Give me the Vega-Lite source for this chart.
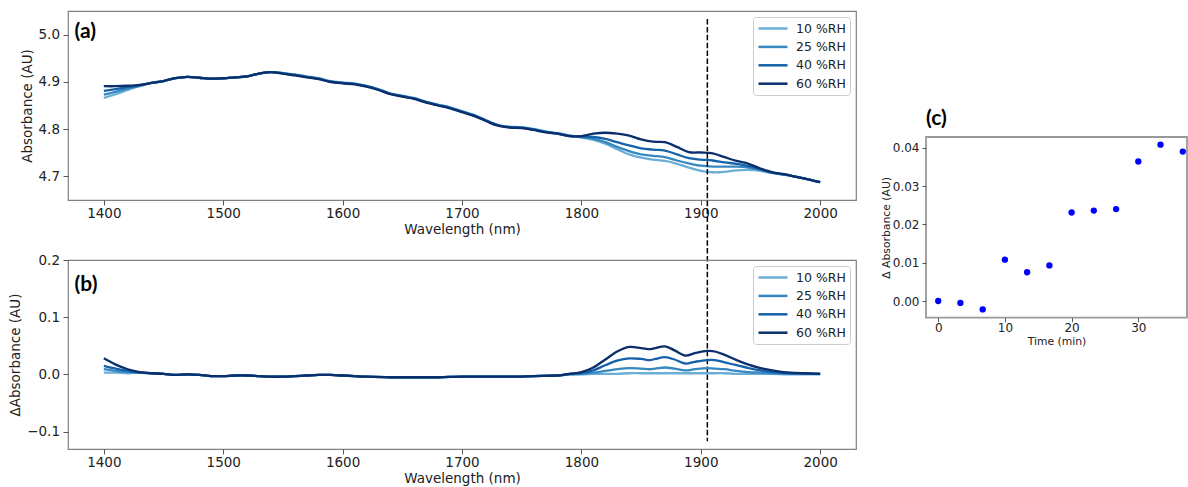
{
  "$schema": "https://vega.github.io/schema/vega-lite/v6.json",
  "background": "white",
  "padding": {"left": 8, "top": 10, "right": 0, "bottom": 0},
  "config": {
    "font": "DejaVu Sans",
    "view": {"stroke": "#808080", "strokeWidth": 1.2},
    "axis": {"grid": false, "domain": false, "tickColor": "#555555", "labelColor": "#222222", "titleColor": "#222222", "titleFontWeight": "normal", "labelFont": "DejaVu Sans", "titleFont": "DejaVu Sans", "labelFontSize": 13.5, "titleFontSize": 13.5, "tickSize": 5},
    "axisX": {"labelPadding": 1, "titlePadding": 3},
    "axisY": {"labelPadding": 3.5, "titlePadding": 4},
    "legend": {"title": null, "orient": "top-right", "offset": 6, "padding": 4, "strokeColor": "#cccccc", "fillColor": "white", "cornerRadius": 3, "labelFontSize": 12.5, "labelColor": "#222222", "labelFont": "DejaVu Sans", "symbolType": "M-1,0H3.83", "symbolSize": 144, "symbolStrokeWidth": 2.5, "labelOffset": 24, "rowPadding": 4.4}
  },
  "datasets": {
    "a": [
      {"wl": 1400, "10 %RH": 4.866, "25 %RH": 4.873, "40 %RH": 4.881, "60 %RH": 4.891},
      {"wl": 1410, "10 %RH": 4.874, "25 %RH": 4.879, "40 %RH": 4.885, "60 %RH": 4.891},
      {"wl": 1420, "10 %RH": 4.883, "25 %RH": 4.886, "40 %RH": 4.889, "60 %RH": 4.892},
      {"wl": 1430, "10 %RH": 4.891, "25 %RH": 4.892, "40 %RH": 4.893, "60 %RH": 4.894},
      {"wl": 1440, "10 %RH": 4.898, "25 %RH": 4.898, "40 %RH": 4.898, "60 %RH": 4.898},
      {"wl": 1450, "10 %RH": 4.902, "25 %RH": 4.902, "40 %RH": 4.902, "60 %RH": 4.902},
      {"wl": 1460, "10 %RH": 4.908, "25 %RH": 4.908, "40 %RH": 4.908, "60 %RH": 4.908},
      {"wl": 1470, "10 %RH": 4.911, "25 %RH": 4.911, "40 %RH": 4.911, "60 %RH": 4.911},
      {"wl": 1480, "10 %RH": 4.909, "25 %RH": 4.909, "40 %RH": 4.909, "60 %RH": 4.909},
      {"wl": 1490, "10 %RH": 4.907, "25 %RH": 4.907, "40 %RH": 4.907, "60 %RH": 4.907},
      {"wl": 1500, "10 %RH": 4.908, "25 %RH": 4.908, "40 %RH": 4.908, "60 %RH": 4.908},
      {"wl": 1510, "10 %RH": 4.910, "25 %RH": 4.910, "40 %RH": 4.910, "60 %RH": 4.910},
      {"wl": 1520, "10 %RH": 4.912, "25 %RH": 4.912, "40 %RH": 4.912, "60 %RH": 4.912},
      {"wl": 1530, "10 %RH": 4.918, "25 %RH": 4.918, "40 %RH": 4.918, "60 %RH": 4.918},
      {"wl": 1540, "10 %RH": 4.921, "25 %RH": 4.921, "40 %RH": 4.921, "60 %RH": 4.921},
      {"wl": 1550, "10 %RH": 4.919, "25 %RH": 4.919, "40 %RH": 4.918, "60 %RH": 4.918},
      {"wl": 1560, "10 %RH": 4.916, "25 %RH": 4.915, "40 %RH": 4.915, "60 %RH": 4.914},
      {"wl": 1570, "10 %RH": 4.912, "25 %RH": 4.911, "40 %RH": 4.911, "60 %RH": 4.910},
      {"wl": 1580, "10 %RH": 4.908, "25 %RH": 4.907, "40 %RH": 4.907, "60 %RH": 4.906},
      {"wl": 1590, "10 %RH": 4.902, "25 %RH": 4.901, "40 %RH": 4.901, "60 %RH": 4.900},
      {"wl": 1600, "10 %RH": 4.899, "25 %RH": 4.898, "40 %RH": 4.898, "60 %RH": 4.897},
      {"wl": 1610, "10 %RH": 4.897, "25 %RH": 4.896, "40 %RH": 4.896, "60 %RH": 4.895},
      {"wl": 1620, "10 %RH": 4.892, "25 %RH": 4.891, "40 %RH": 4.891, "60 %RH": 4.890},
      {"wl": 1630, "10 %RH": 4.885, "25 %RH": 4.884, "40 %RH": 4.884, "60 %RH": 4.883},
      {"wl": 1640, "10 %RH": 4.876, "25 %RH": 4.875, "40 %RH": 4.875, "60 %RH": 4.874},
      {"wl": 1650, "10 %RH": 4.871, "25 %RH": 4.870, "40 %RH": 4.870, "60 %RH": 4.869},
      {"wl": 1660, "10 %RH": 4.866, "25 %RH": 4.865, "40 %RH": 4.865, "60 %RH": 4.864},
      {"wl": 1670, "10 %RH": 4.858, "25 %RH": 4.857, "40 %RH": 4.857, "60 %RH": 4.856},
      {"wl": 1680, "10 %RH": 4.852, "25 %RH": 4.851, "40 %RH": 4.851, "60 %RH": 4.850},
      {"wl": 1690, "10 %RH": 4.846, "25 %RH": 4.845, "40 %RH": 4.845, "60 %RH": 4.844},
      {"wl": 1700, "10 %RH": 4.838, "25 %RH": 4.837, "40 %RH": 4.837, "60 %RH": 4.836},
      {"wl": 1710, "10 %RH": 4.830, "25 %RH": 4.829, "40 %RH": 4.829, "60 %RH": 4.828},
      {"wl": 1720, "10 %RH": 4.819, "25 %RH": 4.818, "40 %RH": 4.818, "60 %RH": 4.817},
      {"wl": 1730, "10 %RH": 4.809, "25 %RH": 4.808, "40 %RH": 4.808, "60 %RH": 4.807},
      {"wl": 1740, "10 %RH": 4.805, "25 %RH": 4.804, "40 %RH": 4.804, "60 %RH": 4.803},
      {"wl": 1750, "10 %RH": 4.804, "25 %RH": 4.803, "40 %RH": 4.803, "60 %RH": 4.802},
      {"wl": 1760, "10 %RH": 4.800, "25 %RH": 4.799, "40 %RH": 4.799, "60 %RH": 4.798},
      {"wl": 1770, "10 %RH": 4.795, "25 %RH": 4.794, "40 %RH": 4.794, "60 %RH": 4.793},
      {"wl": 1780, "10 %RH": 4.791, "25 %RH": 4.791, "40 %RH": 4.790, "60 %RH": 4.790},
      {"wl": 1790, "10 %RH": 4.786, "25 %RH": 4.786, "40 %RH": 4.785, "60 %RH": 4.785},
      {"wl": 1800, "10 %RH": 4.782, "25 %RH": 4.783, "40 %RH": 4.784, "60 %RH": 4.785},
      {"wl": 1810, "10 %RH": 4.777, "25 %RH": 4.779, "40 %RH": 4.783, "60 %RH": 4.790},
      {"wl": 1820, "10 %RH": 4.769, "25 %RH": 4.772, "40 %RH": 4.779, "60 %RH": 4.792},
      {"wl": 1830, "10 %RH": 4.757, "25 %RH": 4.762, "40 %RH": 4.772, "60 %RH": 4.790},
      {"wl": 1840, "10 %RH": 4.746, "25 %RH": 4.753, "40 %RH": 4.765, "60 %RH": 4.786},
      {"wl": 1850, "10 %RH": 4.739, "25 %RH": 4.746, "40 %RH": 4.759, "60 %RH": 4.778},
      {"wl": 1860, "10 %RH": 4.735, "25 %RH": 4.743, "40 %RH": 4.756, "60 %RH": 4.773},
      {"wl": 1870, "10 %RH": 4.732, "25 %RH": 4.740, "40 %RH": 4.754, "60 %RH": 4.772},
      {"wl": 1880, "10 %RH": 4.726, "25 %RH": 4.733, "40 %RH": 4.746, "60 %RH": 4.762},
      {"wl": 1890, "10 %RH": 4.718, "25 %RH": 4.727, "40 %RH": 4.738, "60 %RH": 4.751},
      {"wl": 1900, "10 %RH": 4.711, "25 %RH": 4.722, "40 %RH": 4.735, "60 %RH": 4.750},
      {"wl": 1910, "10 %RH": 4.708, "25 %RH": 4.720, "40 %RH": 4.733, "60 %RH": 4.748},
      {"wl": 1920, "10 %RH": 4.709, "25 %RH": 4.720, "40 %RH": 4.729, "60 %RH": 4.740},
      {"wl": 1930, "10 %RH": 4.712, "25 %RH": 4.720, "40 %RH": 4.726, "60 %RH": 4.732},
      {"wl": 1940, "10 %RH": 4.713, "25 %RH": 4.718, "40 %RH": 4.721, "60 %RH": 4.726},
      {"wl": 1950, "10 %RH": 4.711, "25 %RH": 4.713, "40 %RH": 4.714, "60 %RH": 4.716},
      {"wl": 1960, "10 %RH": 4.706, "25 %RH": 4.707, "40 %RH": 4.707, "60 %RH": 4.708},
      {"wl": 1970, "10 %RH": 4.703, "25 %RH": 4.703, "40 %RH": 4.703, "60 %RH": 4.704},
      {"wl": 1980, "10 %RH": 4.698, "25 %RH": 4.698, "40 %RH": 4.698, "60 %RH": 4.698},
      {"wl": 1990, "10 %RH": 4.693, "25 %RH": 4.693, "40 %RH": 4.693, "60 %RH": 4.693},
      {"wl": 2000, "10 %RH": 4.687, "25 %RH": 4.687, "40 %RH": 4.687, "60 %RH": 4.687}
    ],
    "b": [
      {"wl": 1400, "10 %RH": 0.003, "25 %RH": 0.009, "40 %RH": 0.015, "60 %RH": 0.028},
      {"wl": 1410, "10 %RH": 0.003, "25 %RH": 0.006, "40 %RH": 0.010, "60 %RH": 0.017},
      {"wl": 1420, "10 %RH": 0.002, "25 %RH": 0.004, "40 %RH": 0.006, "60 %RH": 0.009},
      {"wl": 1430, "10 %RH": 0.003, "25 %RH": 0.003, "40 %RH": 0.003, "60 %RH": 0.004},
      {"wl": 1440, "10 %RH": 0.002, "25 %RH": 0.002, "40 %RH": 0.002, "60 %RH": 0.002},
      {"wl": 1450, "10 %RH": 0.001, "25 %RH": 0.001, "40 %RH": 0.001, "60 %RH": 0.001},
      {"wl": 1460, "10 %RH": -0.001, "25 %RH": -0.001, "40 %RH": -0.001, "60 %RH": -0.001},
      {"wl": 1470, "10 %RH": 0.000, "25 %RH": 0.000, "40 %RH": 0.000, "60 %RH": 0.000},
      {"wl": 1480, "10 %RH": -0.001, "25 %RH": -0.001, "40 %RH": -0.001, "60 %RH": -0.001},
      {"wl": 1490, "10 %RH": -0.003, "25 %RH": -0.003, "40 %RH": -0.003, "60 %RH": -0.003},
      {"wl": 1500, "10 %RH": -0.003, "25 %RH": -0.003, "40 %RH": -0.003, "60 %RH": -0.003},
      {"wl": 1510, "10 %RH": -0.002, "25 %RH": -0.002, "40 %RH": -0.002, "60 %RH": -0.002},
      {"wl": 1520, "10 %RH": -0.002, "25 %RH": -0.002, "40 %RH": -0.002, "60 %RH": -0.002},
      {"wl": 1530, "10 %RH": -0.003, "25 %RH": -0.003, "40 %RH": -0.003, "60 %RH": -0.003},
      {"wl": 1540, "10 %RH": -0.004, "25 %RH": -0.004, "40 %RH": -0.004, "60 %RH": -0.004},
      {"wl": 1550, "10 %RH": -0.004, "25 %RH": -0.004, "40 %RH": -0.004, "60 %RH": -0.004},
      {"wl": 1560, "10 %RH": -0.003, "25 %RH": -0.003, "40 %RH": -0.003, "60 %RH": -0.003},
      {"wl": 1570, "10 %RH": -0.002, "25 %RH": -0.002, "40 %RH": -0.002, "60 %RH": -0.002},
      {"wl": 1580, "10 %RH": -0.001, "25 %RH": -0.001, "40 %RH": -0.001, "60 %RH": -0.001},
      {"wl": 1590, "10 %RH": -0.001, "25 %RH": -0.001, "40 %RH": -0.001, "60 %RH": -0.001},
      {"wl": 1600, "10 %RH": -0.002, "25 %RH": -0.002, "40 %RH": -0.002, "60 %RH": -0.002},
      {"wl": 1610, "10 %RH": -0.003, "25 %RH": -0.003, "40 %RH": -0.003, "60 %RH": -0.003},
      {"wl": 1620, "10 %RH": -0.004, "25 %RH": -0.004, "40 %RH": -0.004, "60 %RH": -0.004},
      {"wl": 1640, "10 %RH": -0.005, "25 %RH": -0.005, "40 %RH": -0.005, "60 %RH": -0.005},
      {"wl": 1660, "10 %RH": -0.005, "25 %RH": -0.005, "40 %RH": -0.005, "60 %RH": -0.005},
      {"wl": 1680, "10 %RH": -0.005, "25 %RH": -0.005, "40 %RH": -0.005, "60 %RH": -0.005},
      {"wl": 1700, "10 %RH": -0.004, "25 %RH": -0.004, "40 %RH": -0.004, "60 %RH": -0.004},
      {"wl": 1720, "10 %RH": -0.004, "25 %RH": -0.004, "40 %RH": -0.004, "60 %RH": -0.004},
      {"wl": 1740, "10 %RH": -0.004, "25 %RH": -0.004, "40 %RH": -0.004, "60 %RH": -0.004},
      {"wl": 1760, "10 %RH": -0.003, "25 %RH": -0.003, "40 %RH": -0.003, "60 %RH": -0.003},
      {"wl": 1780, "10 %RH": -0.002, "25 %RH": -0.002, "40 %RH": -0.002, "60 %RH": -0.002},
      {"wl": 1790, "10 %RH": 0.000, "25 %RH": 0.000, "40 %RH": 0.001, "60 %RH": 0.001},
      {"wl": 1800, "10 %RH": 0.000, "25 %RH": 0.001, "40 %RH": 0.002, "60 %RH": 0.004},
      {"wl": 1810, "10 %RH": 0.001, "25 %RH": 0.003, "40 %RH": 0.007, "60 %RH": 0.012},
      {"wl": 1820, "10 %RH": 0.001, "25 %RH": 0.006, "40 %RH": 0.016, "60 %RH": 0.026},
      {"wl": 1830, "10 %RH": 0.001, "25 %RH": 0.009, "40 %RH": 0.024, "60 %RH": 0.040},
      {"wl": 1840, "10 %RH": 0.002, "25 %RH": 0.011, "40 %RH": 0.028, "60 %RH": 0.048},
      {"wl": 1850, "10 %RH": 0.002, "25 %RH": 0.010, "40 %RH": 0.027, "60 %RH": 0.046},
      {"wl": 1857, "10 %RH": 0.002, "25 %RH": 0.009, "40 %RH": 0.025, "60 %RH": 0.044},
      {"wl": 1862, "10 %RH": 0.002, "25 %RH": 0.010, "40 %RH": 0.027, "60 %RH": 0.046},
      {"wl": 1870, "10 %RH": 0.002, "25 %RH": 0.012, "40 %RH": 0.030, "60 %RH": 0.049},
      {"wl": 1878, "10 %RH": 0.002, "25 %RH": 0.010, "40 %RH": 0.026, "60 %RH": 0.042},
      {"wl": 1887, "10 %RH": 0.002, "25 %RH": 0.007, "40 %RH": 0.019, "60 %RH": 0.033},
      {"wl": 1895, "10 %RH": 0.002, "25 %RH": 0.009, "40 %RH": 0.022, "60 %RH": 0.037},
      {"wl": 1905, "10 %RH": 0.002, "25 %RH": 0.011, "40 %RH": 0.025, "60 %RH": 0.041},
      {"wl": 1912, "10 %RH": 0.002, "25 %RH": 0.010, "40 %RH": 0.025, "60 %RH": 0.040},
      {"wl": 1920, "10 %RH": 0.002, "25 %RH": 0.009, "40 %RH": 0.021, "60 %RH": 0.034},
      {"wl": 1930, "10 %RH": 0.001, "25 %RH": 0.006, "40 %RH": 0.016, "60 %RH": 0.025},
      {"wl": 1940, "10 %RH": 0.001, "25 %RH": 0.004, "40 %RH": 0.011, "60 %RH": 0.017},
      {"wl": 1950, "10 %RH": 0.001, "25 %RH": 0.003, "40 %RH": 0.007, "60 %RH": 0.011},
      {"wl": 1960, "10 %RH": 0.001, "25 %RH": 0.002, "40 %RH": 0.004, "60 %RH": 0.007},
      {"wl": 1975, "10 %RH": 0.000, "25 %RH": 0.001, "40 %RH": 0.002, "60 %RH": 0.003},
      {"wl": 2000, "10 %RH": 0.000, "25 %RH": 0.001, "40 %RH": 0.001, "60 %RH": 0.001}
    ],
    "c": [
      {"t": 0.00, "dA": 0.0000},
      {"t": 3.33, "dA": -0.0005},
      {"t": 6.67, "dA": -0.0022},
      {"t": 10.00, "dA": 0.0108},
      {"t": 13.33, "dA": 0.0075},
      {"t": 16.67, "dA": 0.0093},
      {"t": 20.00, "dA": 0.0231},
      {"t": 23.33, "dA": 0.0236},
      {"t": 26.67, "dA": 0.0240},
      {"t": 30.00, "dA": 0.0364},
      {"t": 33.33, "dA": 0.0408},
      {"t": 36.67, "dA": 0.0390}
    ]
  },
  "hconcat": [
    {
      "vconcat": [
        {
          "width": 788,
          "height": 189,
          "layer": [
            {
              "data": {"name": "a"},
              "transform": [{"fold": ["10 %RH", "25 %RH", "40 %RH", "60 %RH"], "as": ["rh", "abs"]}],
              "mark": {"type": "line", "strokeWidth": 2.3, "interpolate": "cardinal"},
              "encoding": {
                "x": {"field": "wl", "type": "quantitative", "scale": {"domain": [1370, 2030], "nice": false, "zero": false}, "axis": {"values": [1400, 1500, 1600, 1700, 1800, 1900, 2000], "format": "d", "title": "Wavelength (nm)"}},
                "y": {"field": "abs", "type": "quantitative", "scale": {"domain": [4.649, 5.051], "nice": false, "zero": false}, "axis": {"values": [4.7, 4.8, 4.9, 5.0], "format": ".1f", "title": "Absorbance (AU)"}},
                "color": {"field": "rh", "type": "nominal", "scale": {"domain": ["10 %RH", "25 %RH", "40 %RH", "60 %RH"], "range": ["#6aaed6", "#3787c0", "#1562a9", "#0a2f6b"]}, "legend": {"title": null}}
              }
            },
            {
              "data": {"values": [{}]},
              "mark": {"type": "rule", "strokeDash": [5.5, 2.4], "strokeWidth": 1.5, "color": "black"},
              "encoding": {"x": {"datum": 1905.5}, "y": {"datum": 5.034}, "y2": {"datum": 4.136}}
            },
            {
              "data": {"values": [{}]},
              "mark": {"type": "text", "text": "(a)", "font": "Lato", "fontWeight": "bold", "fontSize": 21, "align": "left", "baseline": "middle", "color": "black"},
              "encoding": {"x": {"datum": 1375.5}, "y": {"datum": 5.006}}
            }
          ]
        },
        {
          "width": 788,
          "height": 189,
          "layer": [
            {
              "data": {"name": "b"},
              "transform": [{"fold": ["10 %RH", "25 %RH", "40 %RH", "60 %RH"], "as": ["rh", "dabs"]}],
              "mark": {"type": "line", "strokeWidth": 2.3, "interpolate": "cardinal"},
              "encoding": {
                "x": {"field": "wl", "type": "quantitative", "scale": {"domain": [1370, 2030], "nice": false, "zero": false}, "axis": {"values": [1400, 1500, 1600, 1700, 1800, 1900, 2000], "format": "d", "title": "Wavelength (nm)"}},
                "y": {"field": "dabs", "type": "quantitative", "scale": {"domain": [-0.1305, 0.2], "nice": false, "zero": false}, "axis": {"values": [-0.1, 0.0, 0.1, 0.2], "format": ".1f", "title": "ΔAbsorbance (AU)"}},
                "color": {"field": "rh", "type": "nominal", "scale": {"domain": ["10 %RH", "25 %RH", "40 %RH", "60 %RH"], "range": ["#6aaed6", "#3787c0", "#1562a9", "#0a2f6b"]}, "legend": {"title": null}}
              }
            },
            {
              "data": {"values": [{}]},
              "mark": {"type": "text", "text": "(b)", "font": "Lato", "fontWeight": "bold", "fontSize": 21, "align": "left", "baseline": "middle", "color": "black"},
              "encoding": {"x": {"datum": 1375.5}, "y": {"datum": 0.157}}
            }
          ]
        }
      ],
      "spacing": 60,
      "bounds": "flush",
      "resolve": {"scale": {"color": "independent"}, "legend": {"color": "independent"}}
    },
    {
      "vconcat": [
        {
          "width": 261,
          "height": 126,
          "view": {"stroke": null},
          "data": {"values": [{}]},
          "mark": {"type": "point", "opacity": 0},
          "encoding": {}
        },
        {
          "width": 261,
          "height": 180.7,
          "view": {"stroke": "#999999", "strokeWidth": 1.8},
          "title": {"text": "(c)", "anchor": "start", "font": "Lato", "fontWeight": "bold", "fontSize": 21, "color": "black", "offset": 8, "frame": "group"},
          "data": {"name": "c"},
          "mark": {"type": "point", "filled": true, "color": "#0000ff", "size": 40, "opacity": 1},
          "encoding": {
            "x": {"field": "t", "type": "quantitative", "scale": {"domain": [-1.83, 37.3], "nice": false, "zero": false}, "axis": {"values": [0, 10, 20, 30], "format": "d", "title": "Time (min)", "labelFontSize": 12, "titleFontSize": 10.8, "tickSize": 4, "labelPadding": 1, "titlePadding": 2}},
            "y": {"field": "dA", "type": "quantitative", "scale": {"domain": [-0.00435, 0.0428], "nice": false, "zero": false}, "axis": {"values": [0, 0.01, 0.02, 0.03, 0.04], "format": ".2f", "title": "Δ Absorbance (AU)", "labelFontSize": 12, "titleFontSize": 10.8, "tickSize": 4, "labelPadding": 3, "titlePadding": 0.5}}
          }
        }
      ],
      "spacing": 0,
      "bounds": "flush"
    }
  ],
  "spacing": 22
}
